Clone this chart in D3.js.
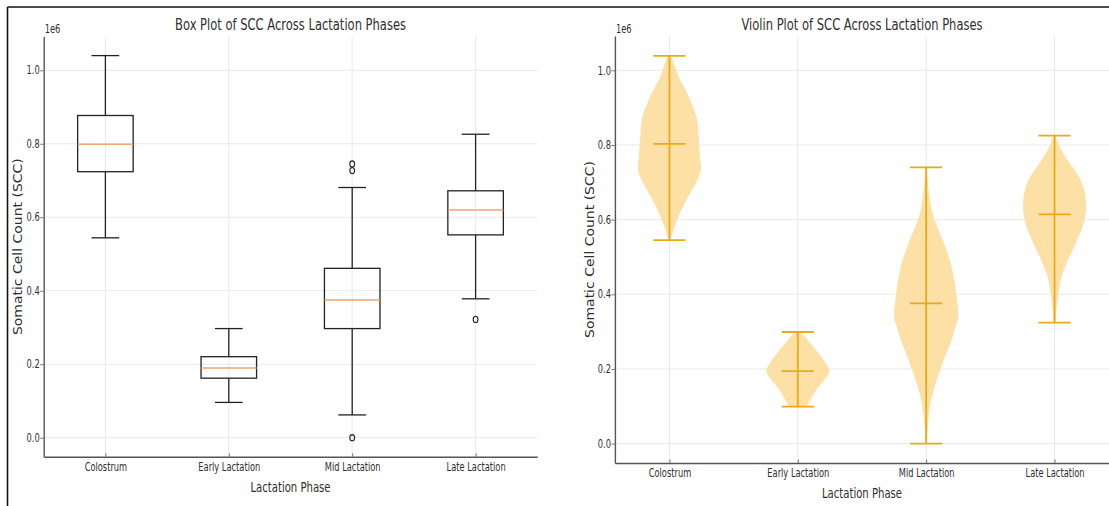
<!DOCTYPE html>
<html>
<head>
<meta charset="utf-8">
<script src="https://cdn.jsdelivr.net/npm/d3@7"></script>
<style>
    body { margin: 0; background: #fff; }
    svg { display: block; font-family: "DejaVu Sans", sans-serif; }
</style>
</head>
<body>
<svg id="chart" width="1109" height="506"></svg>
<script>
// Categories on the x-axis
const phases = ["Colostrum", "Early Lactation", "Mid Lactation", "Late Lactation"];

// Tick values of the y-axis (shown in units of 1e6)
const yTicks = [0, 0.2e6, 0.4e6, 0.6e6, 0.8e6, 1.0e6];

// Box plot statistics, one entry per phase
const boxLow = [0.544e6, 0.096e6, 0.062e6, 0.378e6];
const boxQ1 = [0.724e6, 0.162e6, 0.297e6, 0.552e6];
const boxMedian = [0.799e6, 0.190e6, 0.375e6, 0.620e6];
const boxQ3 = [0.877e6, 0.2205e6, 0.461e6, 0.672e6];
const boxHigh = [1.040e6, 0.297e6, 0.681e6, 0.826e6];
const boxOutliers = [[], [], [0.745e6, 0.727e6, 0.0], [0.322e6]];

// Violin extremes and centre line, one entry per phase
const violinMin = [0.545e6, 0.099e6, 0.0, 0.324e6];
const violinMax = [1.039e6, 0.299e6, 0.740e6, 0.825e6];
const violinMedian = [0.803e6, 0.194e6, 0.3755e6, 0.614e6];

// Violin outlines: [value, relative half width]
const violinColostrum = [
    [1.040e6, 0.02], [1.030e6, 0.09], [0.983e6, 0.29], [0.930e6, 0.60], [0.876e6, 0.84],
    [0.823e6, 0.91], [0.769e6, 0.95], [0.733e6, 0.98], [0.698e6, 0.82], [0.662e6, 0.59],
    [0.626e6, 0.37], [0.591e6, 0.20], [0.564e6, 0.10], [0.545e6, 0.03]
];
const violinEarly = [
    [0.298e6, 0.08], [0.290e6, 0.18], [0.270e6, 0.38], [0.243e6, 0.64], [0.216e6, 0.87],
    [0.194e6, 0.98], [0.171e6, 0.83], [0.145e6, 0.58], [0.118e6, 0.40], [0.099e6, 0.27]
];
const violinMid = [
    [0.740e6, 0.02], [0.680e6, 0.08], [0.626e6, 0.17], [0.590e6, 0.30], [0.537e6, 0.55],
    [0.484e6, 0.76], [0.430e6, 0.89], [0.376e6, 0.97], [0.340e6, 1.00], [0.305e6, 0.89],
    [0.270e6, 0.76], [0.234e6, 0.59], [0.198e6, 0.44], [0.162e6, 0.30], [0.127e6, 0.18],
    [0.091e6, 0.10], [0.046e6, 0.05], [0.0, 0.02]
];
const violinLate = [
    [0.825e6, 0.03], [0.787e6, 0.21], [0.751e6, 0.47], [0.716e6, 0.75], [0.680e6, 0.92],
    [0.644e6, 0.98], [0.617e6, 0.97], [0.580e6, 0.87], [0.537e6, 0.66], [0.492e6, 0.42],
    [0.448e6, 0.22], [0.403e6, 0.12], [0.359e6, 0.06], [0.324e6, 0.03]
];
const violinProfiles = [violinColostrum, violinEarly, violinMid, violinLate];

// The picture is squeezed horizontally, so every text is too
const squeeze = 0.72;

const svg = d3.select("#chart");

svg.append("rect").attr("width", 1109).attr("height", 506).attr("fill", "#fff");

/**
 * Adds a horizontally squeezed text
 */
function addText(str, x, y, size, anchor, rotate) {
    let sx = rotate ? 0.9 : squeeze;
    return svg.append("text")
        .attr("transform", `translate(${x},${y}) scale(${sx},1)` + (rotate ? " rotate(-90)" : ""))
        .attr("text-anchor", anchor || "middle")
        .attr("font-size", size + "px")
        .attr("fill", "#2e2e2e")
        .text(str);
}

/**
 * Draws grid, axes and labels of one panel and returns its scales
 */
function drawPanel(p) {
    let x = d3.scaleLinear().domain(p.xDomain).range(p.xRange);
    let y = d3.scaleLinear().domain([-0.052e6, 1.092e6]).range(p.yRange);

    // Grid lines
    let grid = svg.append("g").attr("stroke", "#e6e6e6").attr("stroke-width", 0.9);
    grid.selectAll(".h").data(yTicks).join("line")
        .attr("x1", p.xRange[0]).attr("x2", p.xRange[1])
        .attr("y1", d => y(d)).attr("y2", d => y(d));
    grid.selectAll(".v").data(phases).join("line")
        .attr("x1", (d, i) => x(i + 1)).attr("x2", (d, i) => x(i + 1))
        .attr("y1", p.yRange[0]).attr("y2", p.yRange[1]);

    // Y-axis
    let yAxis = d3.axisLeft(y).tickValues(yTicks)
        .tickFormat(d => d3.format(".1f")(d / 1e6))
        .tickSizeInner(3.5).tickSizeOuter(0);
    let gy = svg.append("g")
        .attr("transform", `translate(${p.xRange[0]},0)`)
        .call(yAxis);
    gy.selectAll(".tick text").attr("x", -4 / squeeze).attr("transform", `scale(${squeeze},1)`);

    // X-axis, ticks point inwards
    let xAxis = d3.axisBottom(x).tickValues([1, 2, 3, 4])
        .tickFormat(d => phases[d - 1])
        .tickSizeInner(-3.5).tickSizeOuter(0).tickPadding(6);
    let gx = svg.append("g")
        .attr("transform", `translate(0,${p.yRange[0]})`)
        .call(xAxis);
    gx.selectAll(".tick text").attr("transform", `scale(${squeeze},1)`);

    [gx, gy].forEach(g => {
        g.attr("font-family", null).attr("font-size", "11.5px");
        g.select(".domain").attr("stroke", "#555").attr("stroke-width", 1.4);
        g.selectAll(".tick line").attr("stroke", "#777");
        g.selectAll(".tick text").attr("fill", "#2e2e2e");
    });

    // Offset text, title and axis labels
    addText("1e6", p.xRange[0] + 1, 33, 11.5, "start");
    addText(p.title, (p.xRange[0] + p.xRange[1]) / 2, 30, 16);
    addText("Lactation Phase", (p.xRange[0] + p.xRange[1]) / 2, p.xLabelY, 14);
    addText("Somatic Cell Count (SCC)", p.yLabelX, (p.yRange[0] + p.yRange[1]) / 2, 14, "middle", true)
        .attr("dominant-baseline", "central");

    return {x: x, y: y};
}

// Left panel: box plot
let box = drawPanel({
    title: "Box Plot of SCC Across Lactation Phases",
    xDomain: [0.5, 4.5], xRange: [43.7, 537.3], yRange: [456.8, 36.5],
    xLabelY: 492, yLabelX: 18
});

let boxG = svg.append("g").attr("fill", "none").attr("stroke", "#222").attr("stroke-width", 1.3);
phases.forEach((phase, i) => {
    let pos = i + 1;
    let x = box.x, y = box.y;
    boxG.append("rect")
        .attr("x", x(pos - 0.225)).attr("width", x(pos + 0.225) - x(pos - 0.225))
        .attr("y", y(boxQ3[i])).attr("height", y(boxQ1[i]) - y(boxQ3[i]));
    // Whiskers
    boxG.append("line").attr("x1", x(pos)).attr("x2", x(pos)).attr("y1", y(boxQ3[i])).attr("y2", y(boxHigh[i]));
    boxG.append("line").attr("x1", x(pos)).attr("x2", x(pos)).attr("y1", y(boxQ1[i])).attr("y2", y(boxLow[i]));
    // Caps
    [boxLow[i], boxHigh[i]].forEach(v => {
        boxG.append("line").attr("x1", x(pos - 0.1125)).attr("x2", x(pos + 0.1125))
            .attr("y1", y(v)).attr("y2", y(v));
    });
    // Median
    boxG.append("line").attr("x1", x(pos - 0.225)).attr("x2", x(pos + 0.225))
        .attr("y1", y(boxMedian[i])).attr("y2", y(boxMedian[i]))
        .attr("stroke", "#eda56f").attr("stroke-width", 1.5);
    // Outliers
    boxG.selectAll(".o" + i).data(boxOutliers[i]).join("ellipse")
        .attr("cx", x(pos)).attr("cy", d => y(d))
        .attr("rx", 2.4).attr("ry", 3.1).attr("stroke-width", 1.1);
});

// Right panel: violin plot
let vio = drawPanel({
    title: "Violin Plot of SCC Across Lactation Phases",
    xDomain: [0.575, 4.425], xRange: [614.9, 1109.1], yRange: [463, 36],
    xLabelY: 498, yLabelX: 590
});

let vioG = svg.append("g");
phases.forEach((phase, i) => {
    let pos = i + 1;
    let x = vio.x, y = vio.y;

    let area = d3.area()
        .y(d => y(d[0]))
        .x0(d => x(pos - d[1] * 0.25))
        .x1(d => x(pos + d[1] * 0.25))
        .curve(d3.curveCatmullRom.alpha(0.5));

    vioG.append("path")
        .datum(violinProfiles[i])
        .attr("d", area)
        .attr("fill", "#fce0a6");

    let lines = vioG.append("g").attr("stroke", "#e9aa16").attr("stroke-width", 1.8);
    lines.append("line").attr("x1", x(pos)).attr("x2", x(pos))
        .attr("y1", y(violinMin[i])).attr("y2", y(violinMax[i]));
    [violinMin[i], violinMax[i], violinMedian[i]].forEach(v => {
        lines.append("line").attr("x1", x(pos - 0.125)).attr("x2", x(pos + 0.125))
            .attr("y1", y(v)).attr("y2", y(v));
    });
});

// Frame round the picture
svg.append("line").attr("x1", 7.5).attr("x2", 1109).attr("y1", 7).attr("y2", 7)
    .attr("stroke", "#111").attr("stroke-width", 1.6);
svg.append("line").attr("x1", 7.5).attr("x2", 7.5).attr("y1", 7).attr("y2", 506)
    .attr("stroke", "#111").attr("stroke-width", 1.6);
</script>
</body>
</html>
